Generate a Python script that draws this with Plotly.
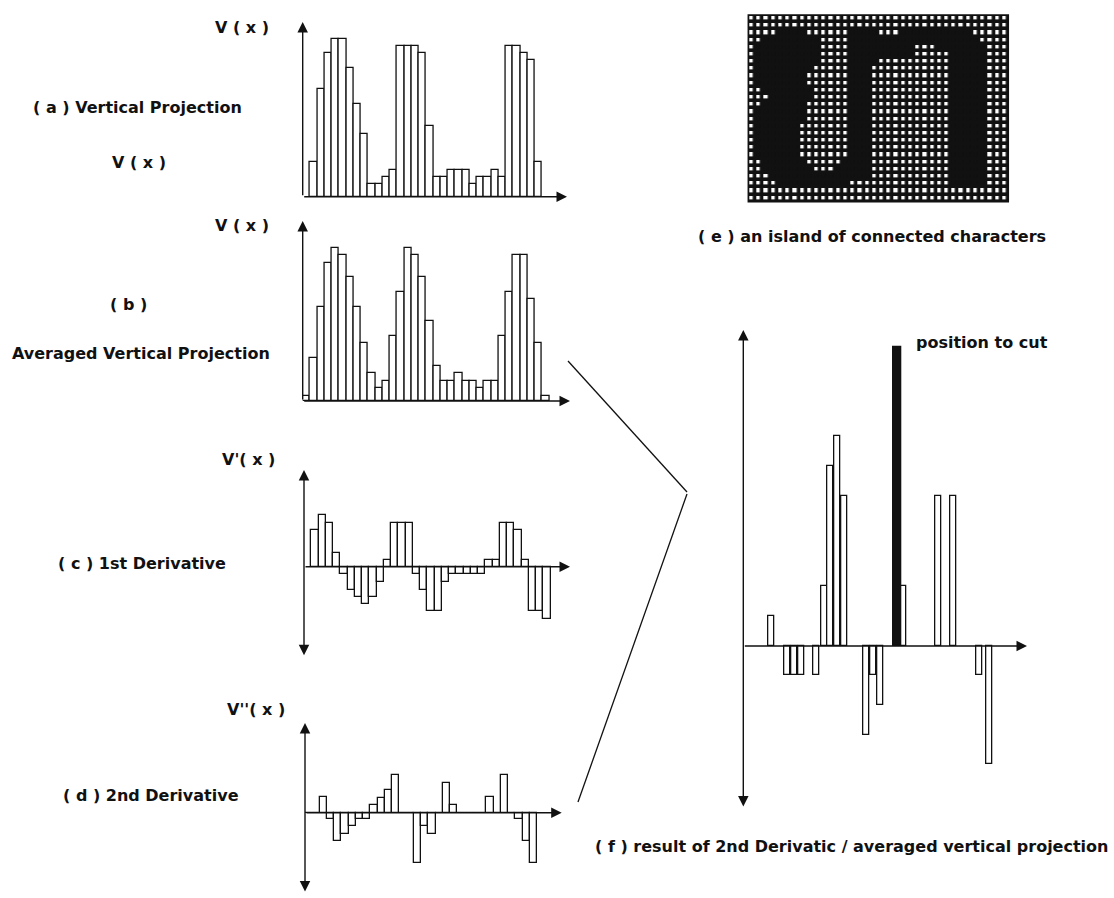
import plotly.graph_objects as go

W, H = 1114, 898
UNIT = 7.25  # pixel width of one bar slot in panels (a)-(d)

# ---------------- data ----------------
# (a) vertical projection, bars 1..32
a_values = [35, 108, 144, 158, 158, 129, 93, 63, 13, 13, 20, 27, 151, 151, 151, 144,
            71, 20, 20, 27, 27, 27, 13, 20, 20, 27, 20, 151, 151, 144, 137, 35]
# (b) averaged vertical projection, bars 0..33
b_values = [5, 43, 94, 138, 153, 146, 124, 94, 58, 28, 13, 20, 65, 109, 153, 146, 124,
            80, 35, 20, 20, 28, 20, 20, 13, 20, 20, 65, 109, 146, 146, 102, 58, 5]
# (c) 1st derivative, bars 1..33
c_values = [37, 52, 44, 14, -7, -23, -30, -37, -30, -15, 7, 44, 44, 44, -7, -23, -44,
            -44, -15, -7, -7, -7, -7, -7, 7, 7, 44, 44, 37, 7, -44, -44, -52]
# (d) 2nd derivative, bars 0..31
d_values = [0, 0, 16, -6, -28, -21, -13, -6, -6, 8, 15, 23, 38, 0, 0, -50, -13, -21,
            0, 30, 8, 0, 0, 0, 0, 16, 0, 38, 0, -6, -28, -50]
# (f) result of 2nd derivative / averaged projection
f_x = [28, 44, 51, 58, 73, 81, 87, 94, 101, 123, 130, 137, 160, 195, 210, 236, 246]
f_values = [30, -29, -29, -29, -29, 60, 180, 210, 150, -89, -29, -59, 60, 150, 150, -29, -118]
cut_x = [154]
cut_value = [299]

# (e) binary image: ink runs (inclusive column ranges) per row, 36 x 26 grid
GRID_COLS, GRID_ROWS = 36, 26
ink_runs = [
    [],
    [],
    [(4, 7), (14, 17), (21, 30)],
    [(2, 9), (14, 31)],
    [(1, 9), (14, 22), (26, 32)],
    [(1, 9), (14, 22), (28, 32)],
    [(1, 9), (14, 17), (28, 32)],
    [(1, 8), (14, 16), (28, 32)],
    [(1, 7), (14, 16), (28, 32)],
    [(1, 7), (14, 16), (28, 32)],
    [(2, 8), (14, 16), (28, 32)],
    [(3, 8), (14, 16), (28, 32)],
    [(2, 7), (14, 16), (28, 32)],
    [(1, 7), (14, 16), (28, 32)],
    [(1, 7), (14, 16), (28, 32)],
    [(1, 6), (14, 16), (28, 32)],
    [(1, 6), (14, 16), (28, 32)],
    [(1, 6), (14, 16), (28, 32)],
    [(1, 6), (14, 16), (28, 32)],
    [(1, 6), (14, 16), (28, 32)],
    [(2, 7), (13, 16), (28, 32)],
    [(2, 8), (12, 16), (28, 32)],
    [(3, 16), (28, 32)],
    [(4, 13), (28, 32)],
    [],
    [],
]

# ---------------- layout helpers ----------------
def xdom(p0, p1):
    return [p0 / W, p1 / W]

def ydom(top, bot):
    return [1 - bot / H, 1 - top / H]

def px(x):
    return x / W

def py(y):
    return 1 - y / H

panels = {
    "a": dict(n="", ax=302.7, xend=567, top=22, base=196.7, bot=196.7, unit=UNIT, dbl=False),
    "b": dict(n="2", ax=302.7, xend=570, top=221, base=401, bot=401, unit=UNIT, dbl=False),
    "c": dict(n="3", ax=304, xend=570, top=470, base=566.7, bot=656.7, unit=UNIT, dbl=True),
    "d": dict(n="4", ax=305, xend=561.7, top=723, base=812.7, bot=893, unit=UNIT, dbl=True),
    "f": dict(n="5", ax=743.3, xend=1027, top=330, base=646, bot=808, unit=1.0, dbl=True),
}

fig = go.Figure()
layout_axes = {}
annotations = []

def add_bars(p, xs, ys, width, color="white"):
    fig.add_trace(go.Bar(
        x=xs, y=ys, width=width,
        marker=dict(color=color, line=dict(color="#111", width=1.3)),
        xaxis="x" + p["n"], yaxis="y" + p["n"],
        hoverinfo="skip", cliponaxis=False,
    ))

add_bars(panels["a"], [k + 1.5 for k in range(len(a_values))], a_values, 1.0)
add_bars(panels["b"], [k + 0.5 for k in range(len(b_values))], b_values, 1.0)
add_bars(panels["c"], [k + 1.5 for k in range(len(c_values))], c_values, 1.0)
add_bars(panels["d"], [k + 0.5 for k in range(len(d_values))], d_values, 1.0)
add_bars(panels["f"], f_x, f_values, 6.7)
add_bars(panels["f"], cut_x, cut_value, 7.2, color="#111")

for key, p in panels.items():
    n = p["n"]
    xmax = (p["xend"] - p["ax"]) / p["unit"]
    ytop = p["base"] - p["top"]
    ybot = -(p["bot"] - p["base"])
    layout_axes["xaxis" + n] = dict(domain=xdom(p["ax"], p["xend"]), range=[0, xmax],
                                    visible=False, fixedrange=True, anchor="y" + n)
    layout_axes["yaxis" + n] = dict(domain=ydom(p["top"], p["bot"]), range=[ybot, ytop],
                                    visible=False, fixedrange=True, anchor="x" + n)
    xr, yr = "x" + n, "y" + n
    annotations.append(dict(
        x=0, y=ytop, ax=0, ay=(ybot if p["dbl"] else 0),
        xref=xr, yref=yr, axref=xr, ayref=yr, text="", showarrow=True,
        arrowhead=2, arrowsize=1.5, arrowwidth=1.4, arrowcolor="#111",
        arrowside="end+start" if p["dbl"] else "end", startarrowhead=2, startarrowsize=1.5,
    ))
    annotations.append(dict(
        x=xmax, y=0, ax=0, ay=0,
        xref=xr, yref=yr, axref=xr, ayref=yr, text="", showarrow=True,
        arrowhead=2, arrowsize=1.5, arrowwidth=1.4, arrowcolor="#111",
    ))

# (e) binary image as heatmap
z = []
for runs in ink_runs:
    row = [0] * GRID_COLS
    for c0, c1 in runs:
        for c in range(c0, c1 + 1):
            row[c] = 1
    z.append(row)

fig.add_trace(go.Heatmap(
    z=z, x=list(range(GRID_COLS)), y=list(range(GRID_ROWS)),
    colorscale=[[0, "white"], [1, "#111"]], zmin=0, zmax=1, showscale=False,
    xgap=3.6, ygap=3.6, xaxis="x6", yaxis="y6", hoverinfo="skip",
))
layout_axes["xaxis6"] = dict(domain=xdom(748.3, 1008.3), range=[-0.5, GRID_COLS - 0.5],
                             visible=False, fixedrange=True, anchor="y6")
layout_axes["yaxis6"] = dict(domain=ydom(15, 201.7), range=[GRID_ROWS - 0.5, -0.5],
                             visible=False, fixedrange=True, anchor="x6")

shapes = [
    dict(type="rect", xref="x6 domain", yref="y6 domain", x0=0, x1=1, y0=0, y1=1,
         fillcolor="#111", line=dict(color="#111", width=1.5), layer="below"),
    dict(type="line", xref="paper", yref="paper", x0=px(568), y0=py(361), x1=px(687), y1=py(492),
         line=dict(color="#111", width=1.3)),
    dict(type="line", xref="paper", yref="paper", x0=px(687), y0=py(494), x1=px(578), y1=py(802),
         line=dict(color="#111", width=1.3)),
]

FONT = dict(family="DejaVu Sans, sans-serif", size=16, color="#111", weight="bold")
labels = [
    ("V ( x )", 242, 27, "center"),
    ("( a ) Vertical Projection", 137, 108, "center"),
    ("V ( x )", 139, 162, "center"),
    ("V ( x )", 242, 226, "center"),
    ("( b )", 128, 304, "center"),
    ("Averaged Vertical Projection", 141, 353, "center"),
    ("V'( x )", 248, 459, "center"),
    ("( c ) 1st Derivative", 142, 563, "center"),
    ("V''( x )", 256, 709, "center"),
    ("( d ) 2nd Derivative", 151, 795, "center"),
    ("( e ) an island of connected characters", 872, 237, "center"),
    ("position to cut", 982, 342, "center"),
    ("( f ) result of 2nd Derivatic / averaged vertical projection", 1110, 846, "right"),
]
for text, x, y, anchor in labels:
    annotations.append(dict(
        text=text, x=px(x), y=py(y), xref="paper", yref="paper",
        xanchor=anchor, yanchor="middle", showarrow=False, font=FONT,
    ))

fig.update_layout(
    width=W, height=H, margin=dict(l=0, r=0, t=0, b=0),
    paper_bgcolor="white", plot_bgcolor="white", showlegend=False,
    bargap=0, barmode="overlay",
    annotations=annotations, shapes=shapes, **layout_axes,
)

fig.write_html("out.html", config={"displayModeBar": False},
               post_script="document.body.style.margin='0';document.body.style.overflow='hidden';")
